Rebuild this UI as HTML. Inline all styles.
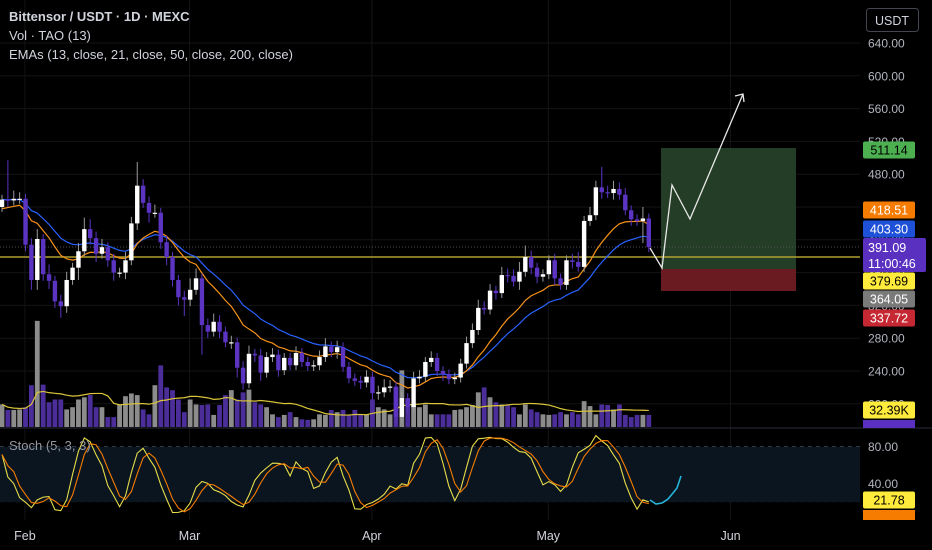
<!DOCTYPE html>
<html><head><meta charset="utf-8"><style>
html,body{margin:0;padding:0;background:#000;}
svg{display:block;font-family:"Liberation Sans",sans-serif;}
</style></head><body>
<svg id="chart" width="932" height="550" viewBox="0 0 932 550" xmlns="http://www.w3.org/2000/svg">
<rect x="0" y="0" width="932" height="550" fill="#000"/>
<g id="grid"></g>
<rect x="0" y="447" width="860" height="55" fill="#0a1520"/>
<g id="volume"></g>
<g id="drawings">
<rect x="661" y="148" width="135" height="121" fill="#243d26"/>
<rect x="661" y="269" width="135" height="22" fill="#6a1a21"/>
</g>
<line x1="0" y1="247" x2="860" y2="247" stroke="#555" stroke-dasharray="1,2"/>
<line x1="0" y1="257" x2="860" y2="257" stroke="#b0a030" stroke-width="1.5"/>
<g id="emas"></g>
<g id="candles"></g>
<polyline points="650,248 662,268 672,185 690,219 743,94" fill="none" stroke="#e8e8e8" stroke-width="1.3"/>
<polyline points="735,96 743,94 744,102" fill="none" stroke="#e8e8e8" stroke-width="1.3"/>
<g id="stoch"></g>
<polyline points="650,500 656,504 662,503 668,499 673,493 677,488 681,476" fill="none" stroke="#26b5d8" stroke-width="1.6"/>
<line x1="0" y1="428" x2="932" y2="428" stroke="#2a2e39"/>
<g id="axes"></g>
<g fill="#d1d4dc" font-size="13">
<text x="9" y="21" font-weight="bold">Bittensor / USDT · 1D · MEXC</text>
<text x="9" y="40">Vol · TAO (13)</text>
<text x="9" y="59">EMAs (13, close, 21, close, 50, close, 200, close)</text>
<text x="9" y="450" fill="#9598a1">Stoch (5, 3, 3)</text>
</g>
<g>
<rect x="866.5" y="8.5" width="52" height="23" rx="3" fill="#000" stroke="#434651"/>
<text x="892" y="25" text-anchor="middle" fill="#d1d4dc" font-size="12.5">USDT</text>
</g>
<g id="tags"></g>
</svg>
<script>
const closes=[449,448,450,450,394,351,401,358,350,325,
319,351,366,386,413,402,383,391,375,360,
360,375,420,466,445,433,433,397,379,351,
330,327,339,353,296,288,300,288,275,275,
244,225,261,259,238,257,260,241,256,247,
262,251,246,247,257,270,263,269,245,231,
228,226,233,213,214,220,221,184,207,196,
231,233,251,256,240,236,230,232,249,274,
290,317,315,338,335,357,356,349,361,379,
366,355,358,375,353,345,375,373,367,423,
430,464,458,457,462,455,436,425,423,426,391];
const firstOpen=440;
const wickUp=[6,48,10,8,6,8,12,6,12,6, 8,10,6,10,14,12,8,10,6,8, 6,10,8,29,8,8,10,6,8,6, 6,8,14,12,6,8,10,8,6,8, 6,8,10,6,8,6,8,6,6,6, 8,6,6,6,8,10,6,8,6,6, 6,6,8,6,8,10,8,6,8,6, 8,8,6,8,6,6,6,6,6,8, 8,10,8,8,6,10,8,8,12,14, 8,6,6,6,8,6,6,8,12,6, 10,8,25,8,10,8,8,6,6,14,6];
const wickDn=[6,8,6,6,8,12,12,8,10,8, 14,8,6,15,6,8,10,6,8,10, 6,8,6,8,6,12,6,8,10,8, 10,20,8,6,36,8,6,8,6,8, 12,8,6,8,10,6,6,8,6,6, 6,6,6,6,6,6,6,8,6,6, 6,8,6,8,8,6,6,10,6,8, 6,6,6,6,6,8,6,6,6,6, 6,6,6,6,8,6,8,6,10,6, 8,8,6,6,8,6,6,8,6,6, 6,6,8,6,8,6,6,8,6,27,6];
const volumesK=[41,31,31,32,36,76,193,77,45,50, 50,32,36,50,54,58,36,36,18,18, 40,56,61,58,32,23,76,112,72,67, 50,27,50,41,40,41,22,40,58,67, 50,63,68,45,41,36,23,18,22,27, 18,14,13,14,23,22,31,27,31,22, 31,22,23,50,36,32,23,72,103,50, 41,36,41,23,23,23,23,31,32,36, 40,63,72,54,45,41,40,36,23,41, 32,27,23,22,23,27,23,27,23,47, 38,23,41,40,32,41,22,18,22,22,22];
const priceTicks=[640,600,560,520,480,440,400,360,320,280,240,200];
const monthLabels=["Feb","Mar","Apr","May","Jun"];
const monthIndex=[3.9,31.9,62.9,92.9,123.9];
const stochTicks=[80,40];
const emaSeed13=436, emaSeed21=449;

const NS="http://www.w3.org/2000/svg";
const X=i=>2+i*5.88;
const Y=p=>43+(640-p)*0.82;
const VY=v=>427-v*0.55;
const SY=s=>520-s*0.917;
function mk(tag,attrs,parent){const e=document.createElementNS(NS,tag);for(const k in attrs)e.setAttribute(k,attrs[k]);parent.appendChild(e);return e;}
const G=id=>document.getElementById(id);
const n=closes.length;
const opens=closes.map((c,i)=>i===0?firstOpen:closes[i-1]);
const highs=closes.map((c,i)=>Math.max(c,opens[i])+wickUp[i]);
const lows=closes.map((c,i)=>Math.min(c,opens[i])-wickDn[i]);

// grid
priceTicks.forEach(p=>{const l=mk('line',{x1:0,x2:860,y1:Y(p),y2:Y(p),stroke:'#141414'},G('grid'));

});
monthIndex.forEach(m=>{const l=mk('line',{x1:X(m),x2:X(m),y1:0,y2:520,stroke:'#141414'},G('grid'));

});
[80,50,20].forEach(s=>{const l=mk('line',{x1:0,x2:860,y1:SY(s),y2:SY(s),stroke:'#3a4250','stroke-dasharray':'4,4'},G('grid'));

});

// volume
for(let i=0;i<n;i++){const up=closes[i]>=opens[i];
const r=mk('rect',{x:X(i)-2.4,y:VY(volumesK[i]),width:4.8,height:volumesK[i]*0.55,fill:up?'#8c8c8c':'#4b2e9a'},G('volume'));

}
let vma=[];for(let i=0;i<n;i++){const a=volumesK.slice(Math.max(0,i-12),i+1);vma.push(a.reduce((s,v)=>s+v,0)/a.length);}
const vl=mk('polyline',{points:vma.map((v,i)=>X(i)+','+VY(v)).join(' '),fill:'none',stroke:'#d9c43a','stroke-width':1.2},G('volume'));



// EMAs
function ema(len,seed){const k=2/(len+1);let e=seed,out=[];closes.forEach(c=>{e=c*k+e*(1-k);out.push(e);});return out;}
const e13=ema(13,emaSeed13),e21=ema(21,emaSeed21);
const l21=mk('polyline',{points:e21.map((v,i)=>X(i)+','+Y(v)).join(' '),fill:'none',stroke:'#2962ff','stroke-width':1.2},G('emas'));


const l13=mk('polyline',{points:e13.map((v,i)=>X(i)+','+Y(v)).join(' '),fill:'none',stroke:'#f7931a','stroke-width':1.2},G('emas'));



// candles
for(let i=0;i<n;i++){const up=closes[i]>=opens[i];const col=up?'#ffffff':'#5b34c2';
const w=mk('line',{x1:X(i),x2:X(i),y1:Y(highs[i]),y2:Y(lows[i]),stroke:up?'#9a9a9a':col,'stroke-width':1},G('candles'));


const top=Y(Math.max(opens[i],closes[i])),bot=Y(Math.min(opens[i],closes[i]));
const b=mk('rect',{x:X(i)-2.2,y:top,width:4.4,height:Math.max(1.2,bot-top),fill:col},G('candles'));

}

// stochastic
let raw=[];for(let i=0;i<n;i++){const hh=Math.max(...highs.slice(Math.max(0,i-4),i+1)),ll=Math.min(...lows.slice(Math.max(0,i-4),i+1));raw.push(hh===ll?50:(closes[i]-ll)/(hh-ll)*100);}
const sma=(a,l)=>a.map((v,i)=>{const s=a.slice(Math.max(0,i-l+1),i+1);return s.reduce((x,y)=>x+y,0)/s.length;});
const kLine=sma(raw,3),dLine=sma(kLine,3);
const sk=mk('polyline',{points:kLine.map((v,i)=>X(i)+','+SY(v)).join(' '),fill:'none',stroke:'#e6dc4a','stroke-width':1.1},G('stoch'));


const sd=mk('polyline',{points:dLine.map((v,i)=>X(i)+','+SY(v)).join(' '),fill:'none',stroke:'#f57c00','stroke-width':1.1},G('stoch'));



// axes labels
priceTicks.forEach(p=>{const t=mk('text',{x:868,y:Y(p)+4.5,fill:'#b2b5be','font-size':12},G('axes'));t.textContent=p.toFixed(2);

});
stochTicks.forEach(s=>{const t=mk('text',{x:868,y:SY(s)+4.5,fill:'#b2b5be','font-size':12},G('axes'));t.textContent=s.toFixed(2);

});
monthLabels.forEach((m,j)=>{const t=mk('text',{x:X(monthIndex[j]),y:540,fill:'#d1d4dc','font-size':12.5,'text-anchor':'middle'},G('axes'));t.textContent=m;

});
const mask=mk('rect',{x:0,y:521,width:932,height:29,fill:'none'},G('axes'));



// price tags
const tagList=[["511.14",150,'#4caf50','#000'],["418.51",210,'#f57c00','#fff'],["403.30",229,'#1e50d8','#fff'],["379.69",281,'#ffeb3b','#000'],["364.05",299,'#7a7a7a','#fff'],["337.72",318,'#c62833','#fff'],["32.39K",410,'#ffeb3b','#000'],["21.78",500,'#ffeb3b','#000']];
tagList.forEach(t=>{const r=mk('rect',{x:863,y:t[1]-8.5,width:52,height:17,rx:2,fill:t[2]},G('tags'));


const tx=mk('text',{x:889,y:t[1]+4.5,fill:t[3],'font-size':12.5,'text-anchor':'middle'},G('tags'));tx.textContent=t[0];

});
const pr=mk('rect',{x:863,y:238,width:63,height:34,rx:2,fill:'#5a30c0'},G('tags'));


const p1=mk('text',{x:868,y:252,fill:'#fff','font-size':12.5},G('tags'));p1.textContent="391.09";


const p2=mk('text',{x:868,y:268,fill:'#fff','font-size':12.5},G('tags'));p2.textContent="11:00:46";


const pv=mk('rect',{x:863,y:420,width:52,height:8,fill:'#5a30c0'},G('tags'));


const ps=mk('rect',{x:863,y:510,width:52,height:10,fill:'#f57c00'},G('tags'));


</script>
</body></html>
